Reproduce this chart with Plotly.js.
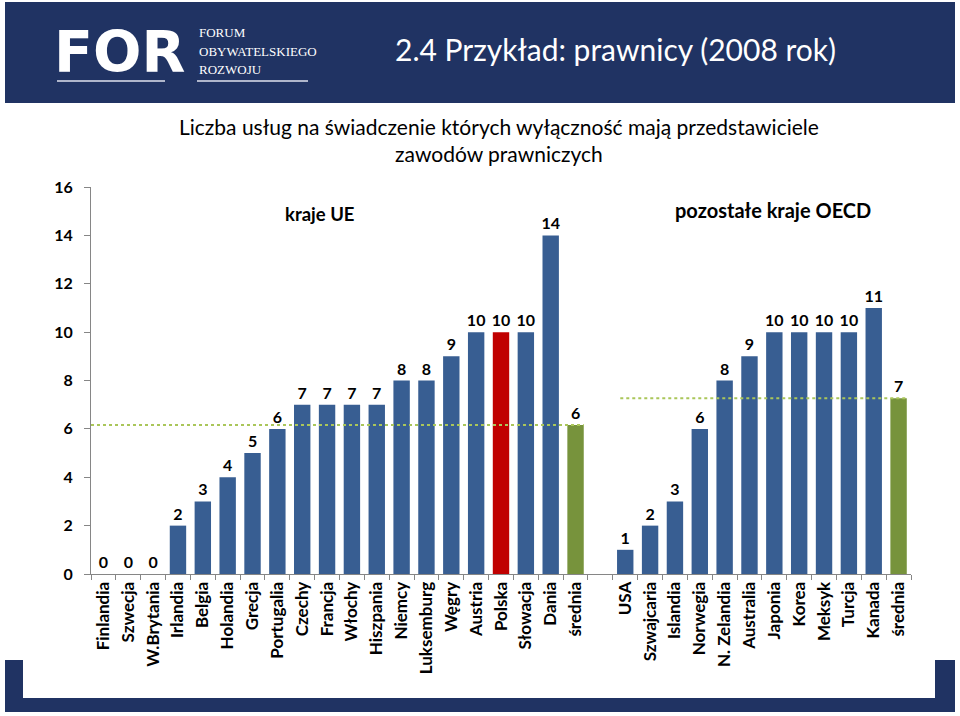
<!DOCTYPE html>
<html><head><meta charset="utf-8">
<script src="https://cdn.plot.ly/plotly-3.0.1.min.js"></script>
<style>body{margin:0;background:#fff;}#chart{width:960px;height:716px;}</style>
</head><body><div id="chart"></div>
<script>
// ---- data ----
const euCountries = ['Finlandia','Szwecja','W.Brytania','Irlandia','Belgia','Holandia','Grecja','Portugalia','Czechy','Francja','Włochy','Hiszpania','Niemcy','Luksemburg','Węgry','Austria','Polska','Słowacja','Dania'];
const euValues = [0,0,0,2,3,4,5,6,7,7,7,7,8,8,9,10,10,10,14];
const euAverage = 6.16;
const oecdCountries = ['USA','Szwajcaria','Islandia','Norwegia','N. Zelandia','Australia','Japonia','Korea','Meksyk','Turcja','Kanada'];
const oecdValues = [1,2,3,6,8,9,10,10,10,10,11];
const oecdAverage = 7.27;
const averageLabel = 'średnia';
const highlightCountry = 'Polska';
const yTickValues = [0,2,4,6,8,10,12,14,16];
const chartTitle = 'Liczba usług na świadczenie których wyłączność mają przedstawiciele<br>zawodów prawniczych';
const slideTitle = '2.4 Przykład: prawnicy (2008 rok)';
const groupLabels = ['kraje UE','pozostałe kraje OECD'];

// ---- build ----
const gap = ' ';
const oecdAvgKey = averageLabel + '\u200b';
const categories = [...euCountries, averageLabel, gap, ...oecdCountries, oecdAvgKey];
const values = [...euValues, euAverage, null, ...oecdValues, oecdAverage];
const BLUE = '#385e92', RED = '#c00000', GREEN = '#77933c';
const colors = categories.map(c => c === highlightCountry ? RED : (c.startsWith(averageLabel) ? GREEN : BLUE));
const font = 'Lato, "Open Sans", sans-serif';

const L = 91, R = 911, T = 187, B = 574;
const px = x => (x - L) / (R - L);
const py = y => (B - y) / (B - T);
const NAVY = '#203363';

const euStart = -0.5, euEnd = euCountries.length + 0.33;
const oecdStart = euCountries.length + 1 + 0.8, oecdEnd = categories.length - 1 + 0.33;

const shapes = [
  {type:'rect', xref:'paper', yref:'paper', x0:px(5), x1:px(955), y0:py(103), y1:py(2), fillcolor:NAVY, line:{width:0}},
  {type:'rect', xref:'paper', yref:'paper', x0:px(5), x1:px(23), y0:py(712), y1:py(660), fillcolor:NAVY, line:{width:0}},
  {type:'rect', xref:'paper', yref:'paper', x0:px(5), x1:px(955), y0:py(712), y1:py(698), fillcolor:NAVY, line:{width:0}},
  {type:'rect', xref:'paper', yref:'paper', x0:px(935), x1:px(955), y0:py(712), y1:py(660), fillcolor:NAVY, line:{width:0}},
  {type:'line', xref:'paper', yref:'paper', x0:px(57), x1:px(165), y0:py(81), y1:py(81), line:{color:'#dfe3ee', width:1.5}},
  {type:'line', xref:'paper', yref:'paper', x0:px(197), x1:px(308), y0:py(81), y1:py(81), line:{color:'#dfe3ee', width:1.5}},
  {type:'line', xref:'x', yref:'y', x0:euStart, x1:euEnd, y0:euAverage, y1:euAverage, line:{color:'#aac65a', width:2, dash:'dot'}, layer:'above'},
  {type:'line', xref:'x', yref:'y', x0:oecdStart, x1:oecdEnd, y0:oecdAverage, y1:oecdAverage, line:{color:'#aac65a', width:2, dash:'dot'}, layer:'above'}
];

const annotations = [
  {xref:'paper', yref:'paper', x:px(52), y:py(52), xanchor:'left', yanchor:'middle', text:'<b>FOR</b>', showarrow:false, font:{family:'"DejaVu Sans", sans-serif', size:57, color:'#ffffff'}},
  {xref:'paper', yref:'paper', x:px(197), y:py(32), xanchor:'left', yanchor:'middle', text:'FORUM', showarrow:false, font:{family:'"Liberation Serif", serif', size:13, color:'#ffffff'}},
  {xref:'paper', yref:'paper', x:px(197), y:py(51), xanchor:'left', yanchor:'middle', text:'OBYWATELSKIEGO', showarrow:false, font:{family:'"Liberation Serif", serif', size:13, color:'#ffffff'}},
  {xref:'paper', yref:'paper', x:px(197), y:py(70), xanchor:'left', yanchor:'middle', text:'ROZWOJU', showarrow:false, font:{family:'"Liberation Serif", serif', size:13, color:'#ffffff'}},
  {xref:'paper', yref:'paper', x:px(615), y:py(49), xanchor:'center', yanchor:'middle', text:slideTitle, showarrow:false, font:{family:font, size:30, color:'#ffffff'}},
  {xref:'paper', yref:'paper', x:px(499), y:py(140), xanchor:'center', yanchor:'middle', text:chartTitle, showarrow:false, font:{family:font, size:21, color:'#000000'}},
  {xref:'paper', yref:'paper', x:px(320), y:py(214), xanchor:'center', yanchor:'middle', text:'<b>'+groupLabels[0]+'</b>', showarrow:false, font:{family:font, size:18.5, color:'#000000'}},
  {xref:'paper', yref:'paper', x:px(773), y:py(210), xanchor:'center', yanchor:'middle', text:'<b>'+groupLabels[1]+'</b>', showarrow:false, font:{family:font, size:20, color:'#000000'}}
];

const trace = {
  type:'bar', x:categories, y:values,
  marker:{color:colors, line:{width:0}},
  width:0.66,
  text:values.map(v => v === null ? '' : String(Math.round(v))),
  textposition:'outside', cliponaxis:false, constraintext:'none',
  textfont:{family:font, size:16, color:'#000000', weight:'bold'},
  hoverinfo:'x+y'
};

const layout = {
  width:960, height:716,
  margin:{l:L, r:960-R, t:T, b:716-B, pad:0},
  paper_bgcolor:'#ffffff', plot_bgcolor:'#ffffff',
  showlegend:false,
  bargap:0.34,
  uniformtext:{mode:false},
  xaxis:{type:'category', categoryorder:'array', categoryarray:categories, range:[-0.5, categories.length-0.5],
    showline:true, linecolor:'#868686', linewidth:1, ticks:'outside', ticklen:5, tickcolor:'#868686', tickson:'boundaries',
    tickangle:-90, tickfont:{family:font, size:17, color:'#000000', weight:'bold'}, showgrid:false, zeroline:false, fixedrange:true},
  yaxis:{range:[0,16], tickvals:yTickValues, showline:true, linecolor:'#868686', linewidth:1, ticks:'outside', ticklen:6, tickcolor:'#868686',
    tickfont:{family:font, size:16, color:'#000000', weight:'bold'}, showgrid:false, zeroline:false, fixedrange:true, ticklabelstandoff:8},
  shapes:shapes, annotations:annotations,
  font:{family:font}
};

Plotly.newPlot('chart', [trace], layout, {displayModeBar:false, staticPlot:true});
</script>
</body></html>
